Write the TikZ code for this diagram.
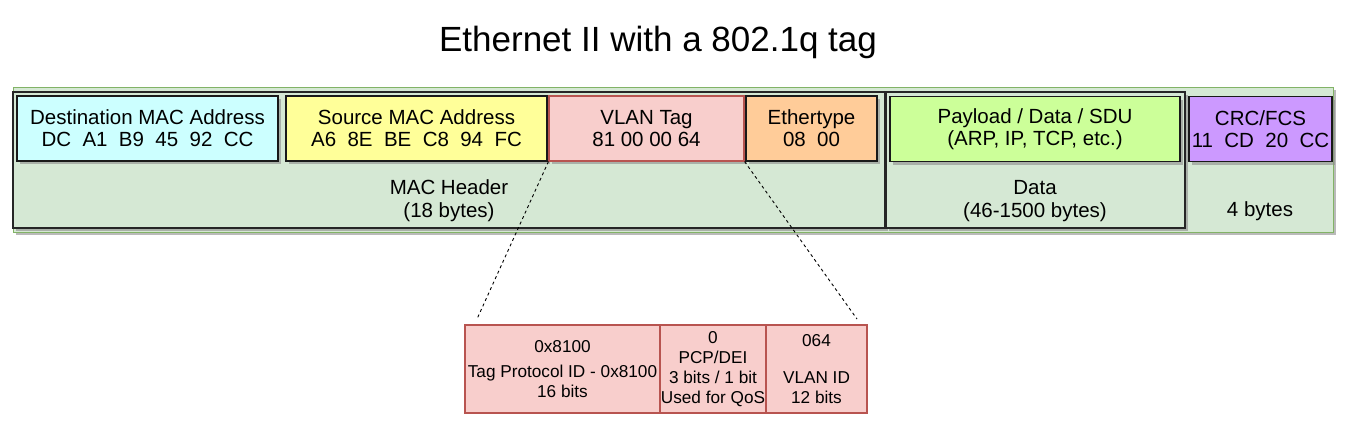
\documentclass[tikz,border=0pt]{standalone}
\usepackage{fontspec}
\setmainfont{Liberation Sans}
\usetikzlibrary{shadows}
\definecolor{hdrgreen}{HTML}{D5E8D4}
\definecolor{hdredge}{HTML}{82B366}
\definecolor{dstcyan}{HTML}{CCFFFF}
\definecolor{srcyellow}{HTML}{FFFF99}
\definecolor{tagpink}{HTML}{F8CECC}
\definecolor{tagedge}{HTML}{B85450}
\definecolor{ethorange}{HTML}{FFCC99}
\definecolor{loadgreen}{HTML}{CCFF99}
\definecolor{crcviolet}{HTML}{CC99FF}
\begin{document}
\begin{tikzpicture}[x=1pt, y=-1pt,
    shade/.style={drop shadow={shadow xshift=3pt, shadow yshift=-3pt, fill=black!45, opacity=0.6}},
    field/.style={draw=black!90, line width=1.1pt, shade, minimum height=65pt, inner sep=0pt, align=center,
                  font=\fontsize{20.5}{22}\selectfont},
    part/.style={draw=black!85, fill=hdrgreen, line width=1.3pt, shade, inner sep=0pt},
    tagbit/.style={draw=tagedge, fill=tagpink, line width=1.1pt, minimum height=88pt, inner sep=0pt, align=center,
                   font=\fontsize{17.2}{20}\selectfont},
    lbl/.style={align=center, font=\fontsize{20.5}{23}\selectfont}]  % 802.1q tagged frame
  \useasboundingbox (0,0) rectangle (1347,431);
  \node (title) at (658,42) {\fontsize{35}{38}\selectfont Ethernet II with a 802.1q tag};
  % frame background and header parts
  \node[draw=hdredge, fill=hdrgreen, line width=1pt, shade, minimum width=1320pt, minimum height=145pt] (frame) at (673,159.5) {};
  \node[part, minimum width=872pt, minimum height=136pt] (machdr) at (449,160) {};
  \node[part, minimum width=299pt, minimum height=136pt] (data) at (1035.5,160) {};
  % fields
  \node[field, fill=dstcyan, minimum width=261pt] (dst) at (147.5,128.5) {Destination MAC Address\\DC\ \ A1\ \ B9\ \ 45\ \ 92\ \ CC};
  \node[field, fill=srcyellow, minimum width=261pt] (src) at (416.5,128.5) {Source MAC Address\\A6\ \ 8E\ \ BE\ \ C8\ \ 94\ \ FC};
  \node[field, fill=tagpink, draw=tagedge, minimum width=195pt] (vlan) at (646.5,128.5) {VLAN Tag\\81 00 00 64};
  \node[field, fill=ethorange, minimum width=131pt] (ethtype) at (811.5,128.5) {Ethertype\\08\ \ 00};
  \node[field, fill=loadgreen, minimum width=290pt] (payload) at (1035,129) {Payload / Data / SDU\\(ARP, IP, TCP, etc.)};
  \node[field, fill=crcviolet, minimum width=143pt] (crc) at (1260.5,129) {CRC/FCS\\11\ \ CD\ \ 20\ \ CC};
  % sizes
  \node[lbl] (machdrlbl) at (449,201) {MAC Header\\(18 bytes)};
  \node[lbl] (datalbl) at (1035,201) {Data\\(46-1500 bytes)};
  \node[lbl] (crclbl) at (1260,211) {4 bytes};
  % tag detail
  \node[tagbit, minimum width=195pt] (tpid) at (562.5,369) {0x8100\\[5pt]Tag Protocol ID - 0x8100\\16 bits};
  \node[tagbit, minimum width=106pt] (pcp) at (713,369) {0\\PCP/DEI\\3 bits / 1 bit\\Used for QoS};
  \node[tagbit, minimum width=101pt] (vid) at (816.5,369) {064\\[17pt]VLAN ID\\12 bits};
  \coordinate (zoomL) at (477,319);
  \coordinate (zoomR) at (857,319);
  \draw[dashed, line width=0.9pt] (vlan.south west) -- (zoomL);
  \draw[dashed, line width=0.9pt] (vlan.south east) -- (zoomR);
\end{tikzpicture}
\end{document}
